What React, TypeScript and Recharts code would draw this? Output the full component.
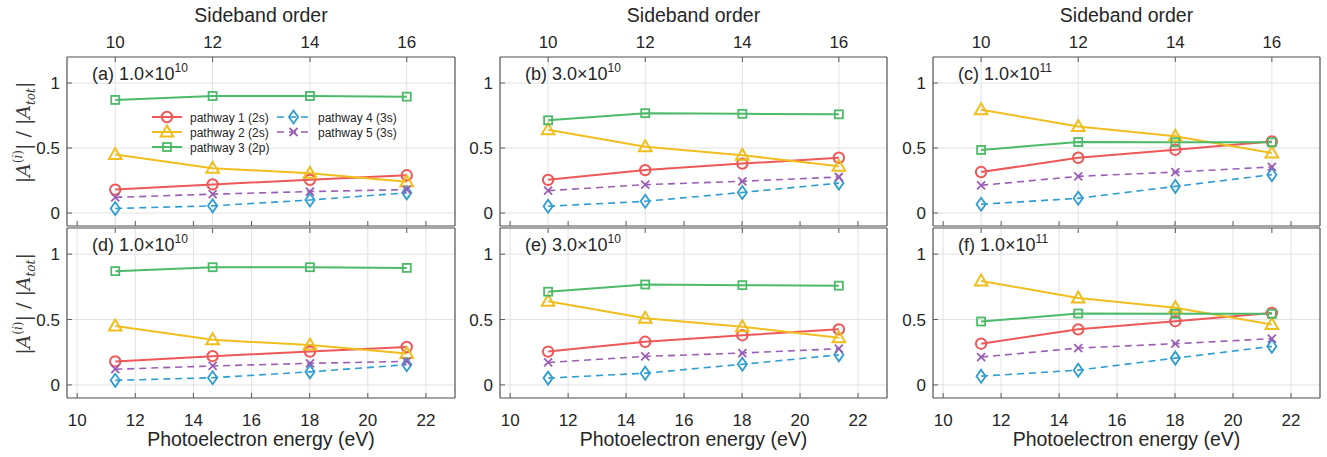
import React from 'react';
import { LineChart, Line, XAxis, YAxis, CartesianGrid, Legend } from 'recharts';

// photoelectron energies (eV) of sidebands 10..16
const energies = [11.31, 14.66, 18.01, 21.34];
const sidebandOrders = [10, 12, 14, 16];
const energyTicks = [10, 12, 14, 16, 18, 20, 22];
const yTicks = [0, 0.5, 1];

// intensity 1.0e10 (panels a, d)
const low_p1 = [0.18, 0.22, 0.255, 0.29];
const low_p2 = [0.45, 0.345, 0.305, 0.24];
const low_p3 = [0.87, 0.9, 0.9, 0.895];
const low_p4 = [0.035, 0.055, 0.1, 0.155];
const low_p5 = [0.12, 0.145, 0.165, 0.18];

// intensity 3.0e10 (panels b, e)
const mid_p1 = [0.255, 0.33, 0.38, 0.425];
const mid_p2 = [0.64, 0.51, 0.445, 0.36];
const mid_p3 = [0.713, 0.768, 0.763, 0.759];
const mid_p4 = [0.052, 0.09, 0.158, 0.23];
const mid_p5 = [0.172, 0.218, 0.244, 0.277];

// intensity 1.0e11 (panels c, f)
const high_p1 = [0.315, 0.425, 0.487, 0.55];
const high_p2 = [0.795, 0.665, 0.59, 0.462];
const high_p3 = [0.485, 0.546, 0.544, 0.544];
const high_p4 = [0.067, 0.113, 0.205, 0.295];
const high_p5 = [0.213, 0.282, 0.315, 0.354];

const series = [
  { key: 'p1', name: 'pathway 1 (2s)', color: '#EE5858', shape: 'circle', dashed: false },
  { key: 'p2', name: 'pathway 2 (2s)', color: '#F0BE1E', shape: 'triangle', dashed: false },
  { key: 'p3', name: 'pathway 3 (2p)', color: '#4CBA69', shape: 'square', dashed: false },
  { key: 'p4', name: 'pathway 4 (3s)', color: '#2E9DD1', shape: 'diamond', dashed: true },
  { key: 'p5', name: 'pathway 5 (3s)', color: '#9A5DB4', shape: 'x', dashed: true },
];

const panels = [
  { tag: 'a', mant: '1.0', exp: '10', vals: [low_p1, low_p2, low_p3, low_p4, low_p5], row: 0, col: 0 },
  { tag: 'b', mant: '3.0', exp: '10', vals: [mid_p1, mid_p2, mid_p3, mid_p4, mid_p5], row: 0, col: 1 },
  { tag: 'c', mant: '1.0', exp: '11', vals: [high_p1, high_p2, high_p3, high_p4, high_p5], row: 0, col: 2 },
  { tag: 'd', mant: '1.0', exp: '10', vals: [low_p1, low_p2, low_p3, low_p4, low_p5], row: 1, col: 0 },
  { tag: 'e', mant: '3.0', exp: '10', vals: [mid_p1, mid_p2, mid_p3, mid_p4, mid_p5], row: 1, col: 1 },
  { tag: 'f', mant: '1.0', exp: '11', vals: [high_p1, high_p2, high_p3, high_p4, high_p5], row: 1, col: 2 },
];

const colX0 = [67, 500, 933];
const colX1 = [455, 887, 1320];
const rowY0 = [57, 228];

const FONT = "'Liberation Sans', Arial, Helvetica, sans-serif";
const TEXT = '#262626';
const FRAME = '#5a5a5a';
const X_DOMAIN = [9.65, 23];

function Marker({ cx, cy, shape, color }: any) {
  if (cx == null || cy == null) return null;
  switch (shape) {
    case 'circle':
      return <circle cx={cx} cy={cy} r={5.2} fill="none" stroke={color} strokeWidth={2} />;
    case 'triangle':
      return (
        <polygon
          points={`${cx},${cy - 6.5} ${cx + 6.3},${cy + 4.5} ${cx - 6.3},${cy + 4.5}`}
          fill="none" stroke={color} strokeWidth={2}
        />
      );
    case 'square':
      return <rect x={cx - 4} y={cy - 4} width={8} height={8} fill="none" stroke={color} strokeWidth={1.8} />;
    case 'diamond':
      return (
        <polygon
          points={`${cx},${cy - 6.5} ${cx + 4.6},${cy} ${cx},${cy + 6.5} ${cx - 4.6},${cy}`}
          fill="none" stroke={color} strokeWidth={1.8}
        />
      );
    default:
      return (
        <g stroke={color} strokeWidth={1.8}>
          <line x1={cx - 4} y1={cy - 4} x2={cx + 4} y2={cy + 4} />
          <line x1={cx - 4} y1={cy + 4} x2={cx + 4} y2={cy - 4} />
        </g>
      );
  }
}

const YTitle = ({ viewBox }: any) => {
  if (!viewBox) return null;
  const x = viewBox.x + 13;
  const y = viewBox.y + viewBox.height / 2 - 9;
  return (
    <text
      x={x} y={y} transform={`rotate(-90 ${x} ${y})`} textAnchor="middle"
      fontSize={19} fill="#3a3a3a" fontFamily="'DejaVu Serif', serif"
    >
      <tspan>|</tspan>
      <tspan fontStyle="italic">A</tspan>
      <tspan fontSize={12} dy={-8}>(<tspan fontStyle="italic">i</tspan>)</tspan>
      <tspan dy={8}>| / |</tspan>
      <tspan fontStyle="italic">A</tspan>
      <tspan fontSize={12} dy={5} fontStyle="italic">tot</tspan>
      <tspan dy={-5}>|</tspan>
    </text>
  );
};

const PathwayLegend = () => (
  <svg width={250} height={48} style={{ display: 'block' }}>
    {series.map((s, i) => {
      const colX = i < 3 ? 2 : 127;
      const lineW = i < 3 ? 30 : 33;
      const y = 9 + (i % 3) * 15;
      return (
        <g key={s.key}>
          <line
            x1={colX} x2={colX + lineW} y1={y} y2={y} stroke={s.color}
            strokeWidth={s.dashed ? 1.6 : 2} strokeDasharray={s.dashed ? '7 5' : undefined}
          />
          <Marker cx={colX + lineW / 2} cy={y} shape={s.shape} color={s.color} />
          <text x={colX + lineW + 8} y={y + 4.5} fontSize={12} fill={TEXT} fontFamily={FONT}>
            {s.name}
          </text>
        </g>
      );
    })}
  </svg>
);

function Panel({ p }: any) {
  const x0 = colX0[p.col];
  const x1 = colX1[p.col];
  const top = p.row === 0;
  const chartLeft = x0 - 60;
  const chartTop = top ? 0 : 224;
  const width = x1 - x0 + 66;
  const height = top ? 230 : 233;
  const data = energies.map((e, i) => {
    const row: any = { energy: e };
    series.forEach((s, k) => { row[s.key] = p.vals[k][i]; });
    return row;
  });
  const tickStyle = { fontSize: 17, fill: TEXT };

  return (
    <div style={{ position: 'absolute', left: chartLeft, top: chartTop, width, height }}>
      <LineChart
        width={width} height={height} data={data}
        margin={top ? { top: 27, right: 5, bottom: 3, left: 10 } : { top: 3, right: 5, bottom: 19, left: 10 }}
      >
        <CartesianGrid
          xAxisId={top ? 'top' : 'bottom'} yAxisId="left"
          stroke="#e2e2e2" strokeWidth={1}
        />
        <XAxis
          xAxisId="bottom" dataKey="energy" type="number" domain={X_DOMAIN} allowDataOverflow
          ticks={energyTicks} interval={0} orientation="bottom" height={top ? 1 : 40}
          tickSize={-5} tickMargin={21} tick={tickStyle}
          tickFormatter={top ? () => '' : (v: number) => String(v)}
          axisLine={{ stroke: FRAME, strokeWidth: 1.2 }} tickLine={{ stroke: FRAME }}
        />
        <XAxis
          xAxisId="top" dataKey="energy" type="number" domain={X_DOMAIN} allowDataOverflow
          ticks={energies} interval={0} orientation="top" height={top ? 30 : 1}
          tickSize={-5} tickMargin={14} tick={tickStyle}
          tickFormatter={top ? (v: number) => String(sidebandOrders[energies.indexOf(v)] ?? '') : () => ''}
          axisLine={{ stroke: FRAME, strokeWidth: 1.2 }} tickLine={{ stroke: FRAME }}
        />
        <YAxis
          yAxisId="left" type="number" domain={[-0.1, 1.2]} allowDataOverflow
          ticks={yTicks} interval={0} width={50}
          tickSize={-5} tickMargin={12} tick={tickStyle}
          axisLine={{ stroke: FRAME, strokeWidth: 1.2 }} tickLine={{ stroke: FRAME }}
          label={p.col === 0 ? <YTitle /> : undefined}
        />
        <YAxis
          yAxisId="right" orientation="right" type="number" domain={[-0.1, 1.2]} allowDataOverflow
          ticks={yTicks} interval={0} width={1}
          tickSize={-5} tick={false}
          axisLine={{ stroke: FRAME, strokeWidth: 1.2 }} tickLine={{ stroke: FRAME }}
        />
        {/* invisible carrier so the top (sideband) axis gets a scale */}
        <Line
          xAxisId="top" yAxisId="right" dataKey="p3" stroke="none" dot={false}
          activeDot={false} legendType="none" isAnimationActive={false}
        />
        {series.map((s) => (
          <Line
            key={s.key} xAxisId="bottom" yAxisId="left" dataKey={s.key} name={s.name}
            stroke={s.color} strokeWidth={s.dashed ? 1.6 : 2}
            strokeDasharray={s.dashed ? '7 5' : undefined}
            dot={(d: any) => <Marker key={`${s.key}-${d.index}`} cx={d.cx} cy={d.cy} shape={s.shape} color={s.color} />}
            activeDot={false} isAnimationActive={false}
          />
        ))}
        {p.tag === 'a' && (
          <Legend
            layout="vertical" align="center" verticalAlign="middle"
            content={() => <PathwayLegend />}
            wrapperStyle={{ position: 'absolute', left: 143, top: 108, width: 250, height: 48 }}
          />
        )}
      </LineChart>
    </div>
  );
}

export default function App() {
  return (
    <div
      style={{
        position: 'absolute', left: 0, top: 0, width: 1327, height: 457,
        background: '#fff', fontFamily: FONT, color: TEXT, overflow: 'hidden',
      }}
    >
      {panels.map((p) => <Panel key={p.tag} p={p} />)}

      {panels.map((p) => (
        <div
          key={`lab-${p.tag}`}
          style={{
            position: 'absolute', left: colX0[p.col] + 25, top: rowY0[p.row] + 8,
            fontSize: 18, lineHeight: 1, whiteSpace: 'nowrap',
          }}
        >
          ({p.tag}) {p.mant}×10
          <span style={{ fontSize: 12, position: 'relative', top: -8 }}>{p.exp}</span>
        </div>
      ))}

      {[0, 1, 2].map((c) => (
        <div
          key={`top-${c}`}
          style={{
            position: 'absolute', left: colX0[c], width: colX1[c] - colX0[c], top: 5.5,
            textAlign: 'center', fontSize: 19.5, lineHeight: 1,
          }}
        >
          Sideband order
        </div>
      ))}
      {[0, 1, 2].map((c) => (
        <div
          key={`bot-${c}`}
          style={{
            position: 'absolute', left: colX0[c], width: colX1[c] - colX0[c], top: 429.5,
            textAlign: 'center', fontSize: 19.5, lineHeight: 1,
          }}
        >
          Photoelectron energy (eV)
        </div>
      ))}
    </div>
  );
}
